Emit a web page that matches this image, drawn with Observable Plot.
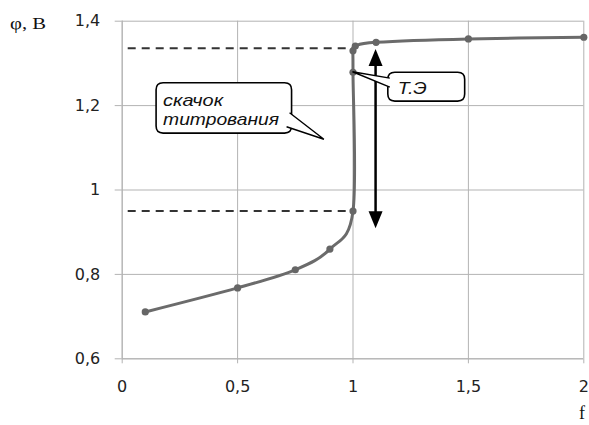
<!DOCTYPE html>
<html><head><meta charset="utf-8">
<script src="https://cdn.jsdelivr.net/npm/d3@7"></script>
<script src="https://cdn.jsdelivr.net/npm/@observablehq/plot@0.6"></script>
<style>body{margin:0;background:#fff} #chart{width:589px;height:425px}</style>
</head><body><div id="chart"></div>
<script>
// titration curve data
const fValues   = [0.1, 0.5, 0.75, 0.9, 1.0, 1.0, 1.0, 1.01, 1.1, 1.5, 2.0];
const phiValues = [0.711, 0.768, 0.811, 0.86, 0.95, 1.279, 1.33, 1.341, 1.35, 1.358, 1.362];
const xTicks = [0, 0.5, 1, 1.5, 2];
const yTicks = [0.6, 0.8, 1, 1.2, 1.4];
const jumpLevels = [0.95, 1.336];
const jumpArrow = {x: 1.1, y1: 0.908, y2: 1.333};
const yLabel = "φ, В";
const xLabel = "f";
const eqLabel = "Т.Э";
const jumpLabel = ["скачок", "титрования"];

const data = fValues.map((f, i) => ({f, phi: phiValues[i]}));
const fmt = d => String(d).replace(".", ",");
const grid = "#b3b3b3";

const plot = Plot.plot({
  width: 589, height: 425,
  marginLeft: 121.7, marginRight: 5.7, marginTop: 20.7, marginBottom: 66.7,
  x: {domain: [0, 2]},
  y: {domain: [0.6, 1.4]},
  style: {fontFamily: "DejaVu Sans", fontSize: "16px", color: "#222", background: "white", overflow: "visible"},
  marks: [
    Plot.gridX(xTicks, {stroke: grid, strokeOpacity: 1}),
    Plot.gridY(yTicks, {stroke: grid, strokeOpacity: 1}),
    Plot.ruleX([0], {stroke: grid}),
    Plot.ruleY([0.6], {stroke: grid}),
    Plot.axisX({ticks: xTicks, tickFormat: fmt, tickSize: 5, tickPadding: 17, stroke: grid, label: null}),
    Plot.axisY({ticks: yTicks, tickFormat: fmt, tickSize: 7, tickPadding: 15, stroke: grid, label: null}),
    Plot.ruleY(jumpLevels, {x1: 0, x2: 1, stroke: "#333", strokeWidth: 2, strokeDasharray: "8,6", strokeDashoffset: -6}),
    Plot.line(data, {x: "f", y: "phi", curve: "catmull-rom", tension: 0, stroke: "#6b6b6b", strokeWidth: 3}),
    Plot.dot(data, {x: "f", y: "phi", r: 3.6, fill: "#666", stroke: "none"})
  ]
});
document.getElementById("chart").append(plot);

const X = plot.scale("x").apply, Y = plot.scale("y").apply;
const svg = d3.select(plot);
const g = svg.append("g").attr("text-anchor", "start");

function txt(x, y, s, family, size, italic, len) {
  const t = g.append("text").attr("x", x).attr("y", y)
    .style("font-family", family).style("font-size", size + "px")
    .style("font-style", italic ? "italic" : "normal").style("text-anchor", "start")
    .attr("fill", "#111").text(s);
  if (len) t.attr("textLength", len).attr("lengthAdjust", "spacingAndGlyphs");
  return t;
}

// axis titles
txt(10, 29, yLabel, "Liberation Serif", 17, false, 36);
txt(579, 419, xLabel, "Liberation Serif", 18);

// double-headed arrow
const ax = X(jumpArrow.x), ay1 = Y(jumpArrow.y1), ay2 = Y(jumpArrow.y2);
const hl = 17, hw = 7;
g.append("line").attr("x1", ax).attr("x2", ax).attr("y1", ay2 + hl - 2).attr("y2", ay1 - hl + 2).attr("stroke", "#000").attr("stroke-width", 2.5);
g.append("path").attr("d", `M${ax},${ay2}L${ax - hw},${ay2 + hl}L${ax + hw},${ay2 + hl}Z`).attr("fill", "#000");
g.append("path").attr("d", `M${ax},${ay1}L${ax - hw},${ay1 - hl}L${ax + hw},${ay1 - hl}Z`).attr("fill", "#000");

// callouts
function roundRect(x0, y0, x1, y1, r) {
  return `M${x0 + r},${y0}H${x1 - r}Q${x1},${y0} ${x1},${y0 + r}V${y1 - r}Q${x1},${y1} ${x1 - r},${y1}H${x0 + r}Q${x0},${y1} ${x0},${y1 - r}V${y0 + r}Q${x0},${y0} ${x0 + r},${y0}Z`;
}
function callout(box, tip, b1, b2, lines, tx, ty, lh, lens) {
  g.append("path").attr("d", roundRect(box[0], box[1], box[2], box[3], 7)).attr("fill", "#fff").attr("stroke", "#000").attr("stroke-width", 1.6);
  g.append("path").attr("d", `M${b1[0]},${b1[1]}L${tip[0]},${tip[1]}L${b2[0]},${b2[1]}`).attr("fill", "#fff").attr("stroke", "#000").attr("stroke-width", 1.4);
  lines.forEach((t, i) => txt(tx, ty + i * lh, t, "Liberation Sans", 17, true, lens[i]));
}
// "Т.Э" box anchored at point (1.0, 1.279)
const tipE = [X(1.0), Y(1.279)];
const bE = [X(1.153), Y(1.278), X(1.486), Y(1.2095)];
callout(bE, tipE, [bE[0] + 2, bE[1] + 6], [bE[0] + 2, bE[1] + 15], [eqLabel], bE[0] + 10, bE[1] + 22, 0, [29]);
// "скачок титрования" box
const tipJ = [X(0.876), Y(1.119)];
const bJ = [X(0.149), Y(1.253), X(0.736), Y(1.1336)];
callout(bJ, tipJ, [bJ[2] - 2, bJ[1] + 30], [bJ[2] - 5, bJ[1] + 44], jumpLabel, bJ[0] + 7, bJ[1] + 23, 19, [60, 116]);
</script></body></html>
